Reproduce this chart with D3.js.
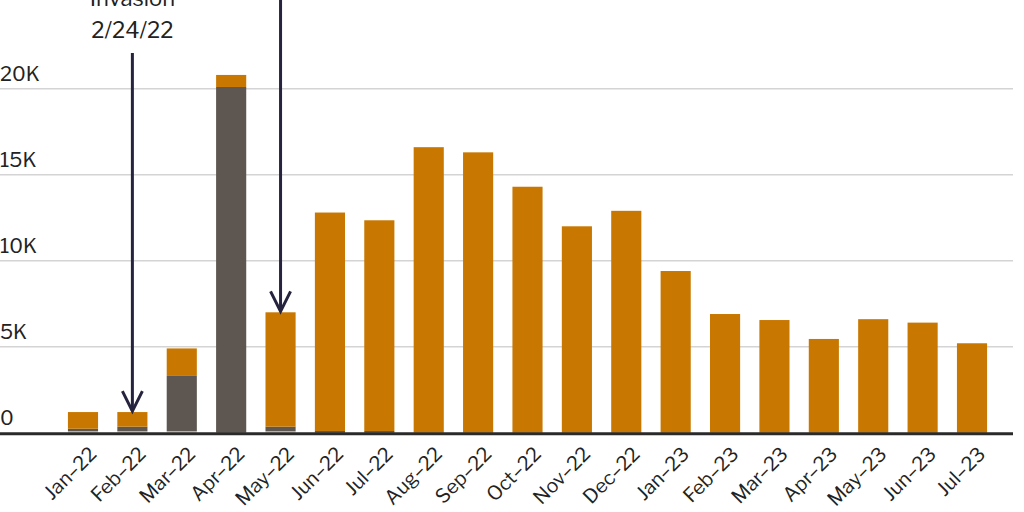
<!DOCTYPE html>
<html>
<head>
<meta charset="utf-8">
<script src="https://cdn.jsdelivr.net/npm/d3@7"></script>
<style>
  body { margin: 0; background: #fff; }
  text { font-family: "Libre Franklin", "Roboto", sans-serif; fill: #222; }
</style>
</head>
<body>
<svg id="chart"></svg>
<script>
const months = ['Jan–22','Feb–22','Mar–22','Apr–22','May–22','Jun–22','Jul–22','Aug–22','Sep–22','Oct–22','Nov–22','Dec–22',
  'Jan–23','Feb–23','Mar–23','Apr–23','May–23','Jun–23','Jul–23'];
// thousands
const otherVals = [0.08, 0.08, 0.08, 0, 0.08, 0, 0, 0, 0, 0, 0, 0, 0, 0, 0, 0, 0, 0, 0];
const grayVals  = [0.15, 0.27, 3.22, 20.1, 0.27, 0.1, 0.1, 0, 0, 0, 0, 0, 0, 0, 0, 0, 0, 0, 0];
const totals    = [1.2, 1.2, 4.9, 20.8, 7.0, 12.8, 12.35, 16.6, 16.3, 14.3, 12.0, 12.9, 9.4, 6.9, 6.55, 5.45, 6.6, 6.4, 5.2];
const yTicks = [0, 5, 10, 15, 20];
const annotations = [
  { month: 'Feb–22', lines: ['Invasion', '2/24/22'], top: 53 },
  { month: 'May–22', lines: [], top: -5 }
];

const width = 1024, height = 512;
const svg = d3.select('#chart').attr('width', width).attr('height', height);

const x = d3.scaleBand().domain(months).range([58.3, 996.7]).paddingInner(0.39).paddingOuter(0.195);
const y = d3.scaleLinear().domain([0, 20]).range([432.7, 88.7]);

// gridlines + labels
const grid = svg.append('g');
yTicks.forEach(t => {
  if (t > 0) grid.append('line').attr('x1', 0).attr('x2', 1013).attr('y1', y(t)).attr('y2', y(t))
    .attr('stroke', '#d4d4d4').attr('stroke-width', 1.5);
  grid.append('text').attr('x', 0).attr('y', y(t) - 8).attr('font-size', 20)
    .text(t === 0 ? '0' : t + 'K');
});

// stacked bars
const rows = months.map((m, i) => ({
  month: m,
  other: otherVals[i],
  gray: grayVals[i],
  orange: totals[i] - grayVals[i] - otherVals[i]
}));
const stack = d3.stack().keys(['other', 'gray', 'orange'])(rows);
const colors = { other: '#d8cbb8', gray: '#5e5650', orange: '#c87800' };

svg.append('g').selectAll('g').data(stack).enter().append('g')
  .attr('fill', d => colors[d.key])
  .selectAll('rect').data(d => d).enter().append('rect')
  .attr('x', d => x(d.data.month))
  .attr('width', x.bandwidth())
  .attr('y', d => y(d[1]))
  .attr('height', d => Math.max(0, y(d[0]) - y(d[1])));

// baseline
svg.append('line').attr('x1', 0).attr('x2', 1013).attr('y1', y(0) + 1).attr('y2', y(0) + 1)
  .attr('stroke', '#2a2a2a').attr('stroke-width', 3);

// x labels
const xAxis = svg.append('g');
months.forEach(m => {
  const cx = x(m) + x.bandwidth() / 2 + 5;
  xAxis.append('text')
    .attr('transform', `translate(${cx},${y(0) + 13}) rotate(-45)`)
    .attr('text-anchor', 'end').attr('dy', '0.7em').attr('font-size', 19.5)
    .text(m);
});

// annotations
annotations.forEach(a => {
  const i = months.indexOf(a.month);
  const cx = x(a.month) + x.bandwidth() / 2;
  const tip = y(totals[i]) - 1;
  const g = svg.append('g').attr('stroke', '#25233d').attr('stroke-width', 3).attr('fill', 'none');
  g.append('line').attr('x1', cx).attr('x2', cx).attr('y1', a.top).attr('y2', tip);
  g.append('path').attr('d', `M${cx - 10},${tip - 20} L${cx},${tip} L${cx + 10},${tip - 20}`);
  a.lines.forEach((l, j) => {
    svg.append('text').attr('x', cx).attr('y', 6 + j * 32).attr('text-anchor', 'middle')
      .attr('font-size', 22).text(l);
  });
});
</script>
</body>
</html>
